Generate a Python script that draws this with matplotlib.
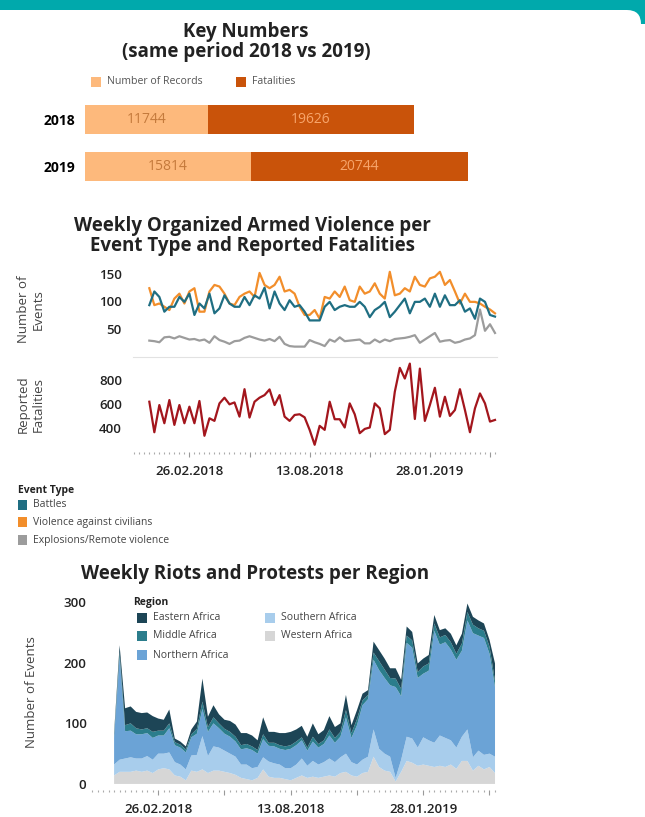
import numpy as np
import pandas as pd
import matplotlib
matplotlib.use("Agg")
import matplotlib.pyplot as plt
from matplotlib.patches import Rectangle, FancyBboxPatch
from matplotlib.transforms import IdentityTransform
from matplotlib.ticker import FixedLocator, FixedFormatter, NullFormatter

plt.rcParams['font.family'] = ['Open Sans', 'DejaVu Sans']

W, H = 645, 817

# --- key numbers -----------------------------------------------------------
years = ['2018', '2019']
records = [11744, 15814]
fatalities_total = [19626, 20744]

# --- weekly series, 2018-01-01 .. 2019-04-29 --------------------------------
weeks = pd.date_range('2018-01-01', periods=70, freq='7D')

battles = [93, 118, 108, 81, 90, 90, 108, 99, 114, 75,
           96, 87, 114, 78, 87, 111, 96, 90, 90, 108,
           93, 111, 105, 125, 87, 118, 96, 84, 102, 90,
           93, 81, 65, 65, 65, 90, 99, 84, 90, 93,
           90, 90, 99, 90, 71, 84, 90, 99, 71, 81,
           93, 105, 78, 99, 99, 105, 90, 114, 90, 111,
           93, 93, 102, 81, 87, 68, 105, 99, 75, 72]

civilians = [124, 93, 96, 90, 84, 105, 114, 96, 118, 124,
             81, 81, 118, 130, 127, 114, 96, 93, 108, 114,
             118, 108, 152, 130, 124, 130, 145, 118, 121, 114,
             90, 75, 75, 84, 68, 108, 105, 118, 108, 127,
             102, 99, 127, 114, 118, 133, 114, 105, 154, 111,
             114, 124, 118, 145, 130, 127, 142, 145, 154, 130,
             139, 118, 96, 114, 99, 99, 96, 90, 85, 78]

explosions = [28, 27, 25, 34, 35, 32, 36, 33, 30, 31,
              28, 30, 24, 36, 29, 26, 22, 27, 28, 33,
              36, 33, 30, 28, 31, 27, 35, 22, 18, 17,
              17, 17, 29, 25, 22, 18, 30, 26, 34, 27,
              28, 29, 30, 23, 23, 30, 25, 30, 27, 31,
              32, 33, 35, 38, 24, 30, 36, 42, 26, 28,
              29, 24, 26, 30, 32, 38, 85, 46, 58, 42]

fatalities = [618, 360, 590, 436, 632, 422, 590, 436, 576, 436,
              624, 330, 478, 456, 604, 652, 596, 612, 492, 724,
              484, 618, 652, 674, 722, 590, 674, 492, 456, 506,
              512, 486, 380, 254, 414, 380, 618, 470, 470, 400,
              604, 512, 352, 388, 400, 604, 562, 344, 380, 702,
              904, 814, 940, 472, 898, 456, 590, 736, 492, 660,
              498, 548, 724, 548, 360, 562, 688, 604, 450, 464]

# riots and protests per region
western = [14, 20, 20, 20, 22, 20, 22, 18, 24, 26,
           24, 14, 12, 6, 22, 20, 24, 18, 22, 22,
           20, 18, 15, 10, 8, 6, 10, 24, 12, 10,
           10, 8, 6, 10, 14, 10, 12, 10, 12, 14,
           12, 18, 20, 14, 12, 18, 20, 45, 28, 22,
           20, 4, 20, 38, 35, 30, 32, 30, 28, 30,
           28, 32, 25, 38, 38, 22, 30, 24, 28, 18]
southern = [18, 20, 22, 24, 20, 22, 24, 22, 26, 24,
            28, 22, 20, 18, 25, 28, 55, 28, 40, 38,
            35, 32, 30, 22, 24, 20, 18, 20, 25, 24,
            22, 18, 20, 22, 28, 20, 26, 22, 24, 28,
            24, 26, 30, 22, 20, 22, 25, 45, 30, 28,
            25, 6, 20, 40, 40, 30, 45, 42, 40, 50,
            48, 40, 35, 40, 52, 22, 25, 24, 22, 27]
northern = [44, 170, 45, 44, 40, 40, 38, 36, 30, 30,
            40, 28, 28, 28, 30, 35, 45, 40, 38, 32,
            28, 28, 25, 25, 27, 30, 22, 30, 26, 28,
            26, 30, 32, 32, 30, 25, 32, 28, 30, 38,
            32, 34, 60, 40, 65, 90, 95, 115, 130, 125,
            118, 150, 105, 155, 150, 115, 105, 115, 185, 150,
            158, 150, 145, 142, 180, 205, 190, 193, 165, 115]
middle = [4, 8, 10, 12, 10, 8, 8, 10, 8, 8,
          8, 5, 5, 5, 5, 8, 12, 8, 10, 8,
          8, 8, 8, 7, 7, 6, 6, 8, 5, 6,
          6, 6, 6, 6, 5, 5, 8, 6, 6, 10,
          8, 8, 12, 8, 10, 8, 7, 12, 15, 14,
          12, 14, 12, 12, 12, 10, 12, 12, 12, 12,
          12, 12, 10, 12, 14, 14, 12, 12, 12, 10]
eastern = [4, 11, 28, 28, 27, 27, 26, 26, 20, 18,
           23, 6, 5, 5, 8, 12, 38, 17, 20, 15,
           15, 18, 20, 20, 18, 18, 16, 28, 18, 18,
           20, 22, 22, 20, 19, 18, 22, 16, 17, 22,
           18, 14, 25, 13, 15, 11, 8, 18, 18, 18,
           16, 17, 15, 15, 14, 14, 13, 14, 14, 12,
           11, 14, 14, 16, 14, 13, 13, 12, 11, 29]

teal = '#1F6E82'
orange = '#F28E2B'
grey = '#9C9C9C'
dark_red = '#A3161D'
light_or = '#FDB97C'
dark_or = '#C9530A'
region_colors = ['#D6D6D6', '#A8CDEC', '#6BA3D6', '#2B7D8C', '#1D4556']
text_col = '#222222'

fig = plt.figure(figsize=(W / 100, H / 100), dpi=100)
fig.patch.set_facecolor('white')


def px_axes(x0, y0, x1, y1):
    a = fig.add_axes([x0 / W, 1 - y1 / H, (x1 - x0) / W, (y1 - y0) / H])
    a.patch.set_alpha(0)
    return a


def px_text(x, y, s, **kw):
    kw.setdefault('color', text_col)
    fig.text(x / W, 1 - y / H, s, **kw)


def px_box(x, y, w, h, color):
    fig.add_artist(Rectangle((x / W, 1 - (y + h) / H), w / W, h / H,
                             transform=fig.transFigure, color=color, lw=0))


# teal header band with the white rounded panel below it
fig.add_artist(Rectangle((0, H - 24), W, 24, transform=IdentityTransform(),
                         color='#00A9AC', lw=0, zorder=-2))
fig.add_artist(FancyBboxPatch((-30, -30), 671, H - 10 + 30,
                              boxstyle='round,pad=0,rounding_size=14',
                              transform=IdentityTransform(),
                              fc='white', ec='none', zorder=-1))

# ---------------------------------------------------------------- key numbers
px_text(246, 32, 'Key Numbers', ha='center', va='center', fontsize=13.5, fontweight='bold')
px_text(246, 52, '(same period 2018 vs 2019)', ha='center', va='center',
        fontsize=13.5, fontweight='bold')

px_box(91, 77, 10, 10, light_or)
px_text(107, 82, 'Number of Records', va='center', fontsize=7.6, color='#555555')
px_box(236, 77, 10, 10, dark_or)
px_text(252, 82, 'Fatalities', va='center', fontsize=7.6, color='#555555')

ax = px_axes(85, 96, 504, 190)
ypos = np.arange(len(years))
ax.barh(ypos, records, height=0.62, color=light_or)
ax.barh(ypos, fatalities_total, left=records, height=0.62, color=dark_or)
for i in ypos:
    ax.text(records[i] / 2, i, str(records[i]), ha='center', va='center',
            fontsize=10, color='#C47A3C')
    ax.text(records[i] + fatalities_total[i] / 2, i, str(fatalities_total[i]),
            ha='center', va='center', fontsize=10, color='#F7A56B')
ax.set_xlim(0, 40000)
ax.set_ylim(1.5, -0.5)
ax.set_yticks(ypos, years, fontsize=10, fontweight='bold')
ax.set_xticks([])
ax.tick_params(length=0, pad=7)
for s in ax.spines.values():
    s.set_visible(False)

# ------------------------------------------------------- armed violence lines
px_text(252, 226, 'Weekly Organized Armed Violence per', ha='center', va='center',
        fontsize=13.5, fontweight='bold')
px_text(252, 246, 'Event Type and Reported Fatalities', ha='center', va='center',
        fontsize=13.5, fontweight='bold')

major = pd.date_range('2018-02-26', periods=6, freq='84D')
major_lbl = [d.strftime('%d.%m.%Y') if i % 2 == 0 else '' for i, d in enumerate(major)]
minor = pd.date_range('2017-11-20', '2019-05-06', freq='7D')


def date_axis(a, left_weeks, right_weeks, labels):
    a.set_xlim(weeks[0] - pd.Timedelta(weeks=left_weeks),
               weeks[-1] + pd.Timedelta(weeks=right_weeks))
    a.xaxis.set_major_locator(FixedLocator(matplotlib.dates.date2num(major)))
    a.xaxis.set_minor_locator(FixedLocator(matplotlib.dates.date2num(minor)))
    if labels:
        a.xaxis.set_major_formatter(FixedFormatter(major_lbl))
    else:
        a.xaxis.set_major_formatter(NullFormatter())
    a.tick_params(axis='x', which='major', length=3.5, width=0.8, color='#999999',
                  labelsize=9.5, labelcolor=text_col, pad=6)
    a.tick_params(axis='x', which='minor', length=1.2, width=0.8, color='#aaaaaa')
    for lbl in a.get_xticklabels():
        lbl.set_fontweight('semibold')


def y_style(a):
    a.tick_params(axis='y', length=0, labelsize=9.5, labelcolor=text_col, pad=8)
    for lbl in a.get_yticklabels():
        lbl.set_fontweight('semibold')


ax1 = px_axes(133, 262, 497, 357)
ax1.plot(weeks, civilians, color=orange, lw=1.6)
ax1.plot(weeks, battles, color=teal, lw=1.6)
ax1.plot(weeks, explosions, color=grey, lw=1.6)
ax1.set_ylim(-2, 172)
ax1.set_yticks([50, 100, 150])
date_axis(ax1, 3.26, 0.4, False)
ax1.tick_params(axis='x', which='both', length=0)
y_style(ax1)
for s in ['top', 'left', 'right']:
    ax1.spines[s].set_visible(False)
ax1.spines['bottom'].set_color('#E2E2E2')
ax1.set_ylabel('Number of\nEvents', fontsize=9.5, color='#444444')
ax1.yaxis.set_label_coords(-0.242, 0.5)

ax2 = px_axes(133, 357, 497, 452)
ax2.plot(weeks, fatalities, color=dark_red, lw=1.6)
ax2.set_ylim(193, 996)
ax2.set_yticks([400, 600, 800])
date_axis(ax2, 3.26, 0.4, True)
y_style(ax2)
for s in ax2.spines.values():
    s.set_visible(False)
ax2.set_ylabel('Reported\nFatalities', fontsize=9.5, color='#444444')
ax2.yaxis.set_label_coords(-0.242, 0.5)

# event type legend
px_text(18, 490, 'Event Type', va='center', fontsize=7.5, fontweight='bold')
for yy, col, name in [(505, teal, 'Battles'),
                      (522, orange, 'Violence against civilians'),
                      (540, grey, 'Explosions/Remote violence')]:
    px_box(18, yy - 5, 9, 10, col)
    px_text(33, yy, name, va='center', fontsize=7.5, color='#444444')

# ----------------------------------------------------- riots and protests area
px_text(255, 574, 'Weekly Riots and Protests per Region', ha='center', va='center',
        fontsize=13.5, fontweight='bold')

ax3 = px_axes(92, 595, 497, 790)
ax3.stackplot(weeks, western, southern, northern, middle, eastern,
              colors=region_colors, lw=0)
ax3.set_ylim(-10, 312)
ax3.set_yticks([0, 100, 200, 300])
date_axis(ax3, 4.0, 0.36, True)
y_style(ax3)
ax3.tick_params(axis='y', pad=4)
for s in ax3.spines.values():
    s.set_visible(False)
ax3.set_ylabel('Number of Events', fontsize=9.5, color='#444444')
ax3.yaxis.set_label_coords(-0.133, 0.5)

px_text(133, 603, 'Region', va='center', fontsize=7.5, fontweight='bold')
for xx, yy, col, name in [(137, 618, region_colors[4], 'Eastern Africa'),
                          (137, 636, region_colors[3], 'Middle Africa'),
                          (137, 655, region_colors[2], 'Northern Africa'),
                          (265, 618, region_colors[1], 'Southern Africa'),
                          (265, 636, region_colors[0], 'Western Africa')]:
    px_box(xx, yy - 5, 10, 10, col)
    px_text(xx + 16, yy, name, va='center', fontsize=7.5, color='#444444')

fig.savefig('out.png', dpi=100)
